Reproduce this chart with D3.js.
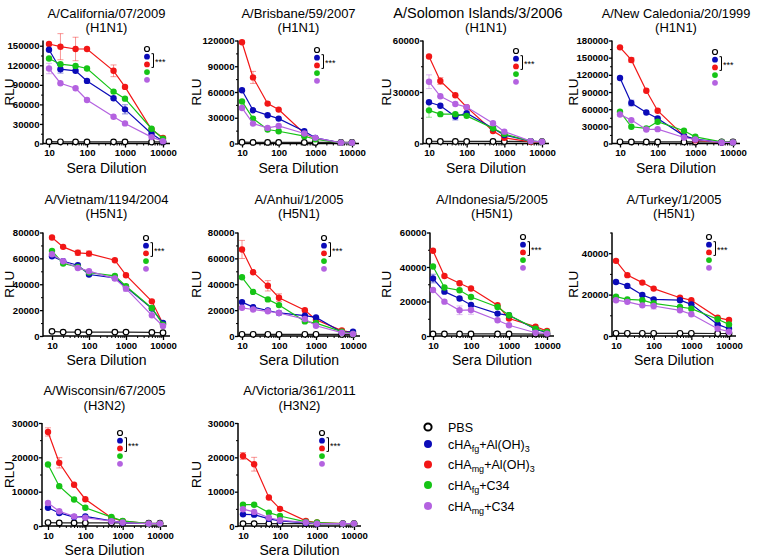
<!DOCTYPE html>
<html>
<head>
<meta charset="utf-8">
<script src="https://cdnjs.cloudflare.com/ajax/libs/d3/7.8.5/d3.min.js"></script>
<style>
  body { margin: 0; background: #fff; }
  text { font-family: "Liberation Sans", Arial, sans-serif; fill: #000; }
  .tick text { font-weight: bold; font-size: 9.6px; }
</style>
</head>
<body>
<div id="chart"></div>
<script>

// ---- data ----
var dilutions = [10, 20, 50, 100, 500, 1000, 5000, 10000];
var xTickValues = [10, 100, 1000, 10000];

var strainNames = ["A/California/07/2009", "A/Brisbane/59/2007", "A/Solomon Islands/3/2006", "A/New Caledonia/20/1999",
                   "A/Vietnam/1194/2004", "A/Anhui/1/2005", "A/Indonesia/5/2005", "A/Turkey/1/2005",
                   "A/Wisconsin/67/2005", "A/Victoria/361/2011"];
var subtypes = ["(H1N1)", "(H1N1)", "(H1N1)", "(H1N1)", "(H5N1)", "(H5N1)", "(H5N1)", "(H5N1)", "(H3N2)", "(H3N2)"];

var yMaxes = [158000, 120000, 60000, 180000, 80000, 80000, 60000, 50000, 30000, 30000];
var yTickSteps = [30000, 30000, 30000, 30000, 20000, 20000, 20000, 20000, 10000, 10000];

var seriesLabels = ["PBS", "cHA|fg|+Al(OH)|3", "cHA|mg|+Al(OH)|3", "cHA|fg|+C34", "cHA|mg|+C34"];

// one row per strain, one value per dilution
var pbs = [
  [2800, 2600, 2500, 2500, 2500, 2500, 2400, 2400],
  [1500, 1300, 1300, 1300, 1300, 1300, 1200, 1200],
  [1300, 1200, 1200, 1200, 1200, 1200, 1100, 1100],
  [3000, 2800, 2800, 2800, 2700, 2700, 2600, 2600],
  [3600, 3000, 3000, 3000, 3000, 3000, 2800, 2500],
  [1300, 1300, 1300, 1300, 1300, 1300, 1200, 1200],
  [1200, 1200, 1200, 1200, 1200, 1200, 1100, 1100],
  [1300, 1300, 1300, 1300, 1300, 1300, 1200, 1200],
  [1000, 900, 900, 900, 900, 900, 800, 800],
  [700, 700, 700, 700, 700, 700, 700, 700]
];
var fgAlum = [
  [143800, 114000, 111500, 96000, 69300, 52400, 15000, 3600],
  [62000, 38700, 33000, 29000, 14300, 6600, 800, 800],
  [24000, 22000, 15700, 17700, 8900, 4900, 1400, 1000],
  [114500, 70700, 54300, 43800, 13400, 7600, 1800, 1800],
  [61700, 57800, 54700, 47500, 44900, 37900, 21200, 10000],
  [26200, 22300, 19700, 17800, 15700, 14400, 2900, 3400],
  [33300, 25700, 21700, 18000, 13000, 12000, 3900, 1900],
  [26100, 24200, 19800, 17700, 17300, 15300, 5600, 3500],
  [5300, 3800, 2600, 2800, 1500, 1000, 700, 700],
  [3400, 3300, 2100, 1500, 900, 700, 700, 700]
];
var mgAlum = [
  [152600, 148500, 145000, 145000, 111500, 86800, 21500, 8700],
  [118000, 77000, 46500, 39500, 11600, 5800, 800, 800],
  [50700, 36400, 28100, 21200, 7300, 3300, 1000, 1000],
  [168000, 146000, 92300, 57300, 13400, 5800, 1800, 1800],
  [76100, 68900, 64300, 63700, 58600, 47000, 26800, 9500],
  [66900, 49300, 38800, 29600, 19900, 12600, 4200, 2600],
  [49400, 34800, 30600, 27500, 17800, 10100, 5400, 2900],
  [36300, 29400, 25800, 22900, 18500, 17300, 8900, 7700],
  [27400, 18400, 12000, 7800, 2400, 1400, 700, 700],
  [20400, 18000, 8300, 5000, 1500, 1000, 700, 700]
];
var fgC34 = [
  [130500, 121700, 119000, 115000, 79600, 68800, 22600, 7200],
  [49000, 29000, 16300, 14300, 8500, 5000, 800, 800],
  [19300, 17100, 17100, 16100, 8900, 5500, 1400, 1000],
  [55500, 29200, 26300, 38000, 22200, 11700, 2900, 1800],
  [65800, 56000, 53400, 49000, 46500, 38500, 21700, 8800],
  [45400, 34100, 28300, 23900, 11300, 10000, 3400, 1600],
  [40300, 28100, 26500, 22600, 16800, 12000, 4300, 2300],
  [19000, 17700, 17300, 15800, 14000, 13200, 8100, 5600],
  [17900, 11600, 7700, 5300, 2600, 1500, 700, 700],
  [6200, 6200, 3900, 2900, 1200, 1000, 700, 700]
];
var mgC34 = [
  [115000, 92500, 84700, 66800, 41100, 30800, 9800, 3600],
  [41400, 23200, 18200, 20500, 11600, 6600, 800, 800],
  [36000, 27500, 23000, 21200, 11800, 6900, 1400, 1000],
  [50800, 40900, 24500, 25100, 10500, 7000, 1800, 1800],
  [63200, 57800, 52600, 50100, 44400, 36600, 16000, 7700],
  [21800, 20500, 19100, 17800, 13100, 7900, 2600, 1600],
  [26700, 19900, 14900, 15100, 9100, 6200, 1900, 1400],
  [17300, 16500, 14800, 14500, 12400, 10500, 3500, 2100],
  [6700, 4300, 2800, 2400, 1400, 1000, 700, 700],
  [4900, 4100, 2400, 1700, 1000, 700, 700, 700]
];

// visible error bars: [strain, series, dilution index, SEM]
var errorBars = [
  [0, 2, 1, 20000], [0, 2, 2, 18000], [0, 2, 4, 9000], [0, 1, 1, 6000], [0, 1, 5, 7000], [0, 4, 0, 8000],
  [1, 2, 1, 7000],
  [2, 4, 0, 4000], [2, 3, 0, 4000], [2, 1, 2, 2000], [2, 2, 1, 2000],
  [3, 2, 1, 4000], [3, 1, 1, 5000],
  [4, 2, 2, 2000], [4, 2, 3, 2000], [4, 4, 5, 2000],
  [5, 2, 0, 7000], [5, 2, 2, 4000], [5, 2, 3, 3000],
  [6, 1, 0, 2500], [6, 4, 2, 2500], [6, 4, 3, 2500],
  [7, 4, 3, 1500],
  [8, 2, 0, 1200], [8, 2, 1, 1500],
  [9, 2, 0, 1000], [9, 2, 1, 2000]
];

// ---- layout ----
var seriesData = [pbs, fgAlum, mgAlum, fgC34, mgC34];
var seriesColors = ["#000000", "#0b0bb8", "#f21616", "#16c416", "#b462e0"];
var drawOrder = [0, 2, 1, 3, 4];

var rowTop = [40.5, 232.5, 423];
var rowBottom = [143.5, 336, 526];
var titleBase = [[18, 32], [203.5, 217.5], [394.5, 409.5]];
var rluX = [10, 197, 387, 574];
var titleSizes = [13, 13, 14.5, 12.8, 13, 13, 13, 13, 13, 13];
var titleShift = [0, 0, -8, 0, 0, 0, 0, 0, 0, 0];

// per panel: y-axis x, x of 10, x of 10000, legend x, legend y
var panelPos = [
  [43, 49, 163, 147, 49], [238, 242, 352, 317, 50], [423, 429, 542, 516, 51], [612, 620, 733, 715, 52],
  [43, 52, 163, 146, 238], [238, 242, 353, 324, 238], [430, 433, 547, 523, 237], [612, 616, 729, 709, 237],
  [42, 48, 160, 120, 433], [238, 243, 354, 322, 433]
];

var svg = d3.select("#chart").append("svg")
    .attr("width", 757)
    .attr("height", 557);

strainNames.forEach(function(name, i) {
    var row = Math.floor(i / 4), col = i % 4;
    var p = panelPos[i];
    var ax = p[0], xEnd = p[2] + 7;
    var y0 = rowBottom[row], yTop = rowTop[row];

    var x = d3.scaleLog().domain([10, 10000]).range([p[1], p[2]]);
    var y = d3.scaleLinear().domain([0, yMaxes[i]]).range([y0, yTop]);

    var g = svg.append("g");

    // titles
    var cx = (ax + xEnd) / 2;
    g.append("text").attr("x", cx + titleShift[i]).attr("y", titleBase[row][0])
        .attr("text-anchor", "middle").style("font-size", titleSizes[i] + "px").text(name);
    g.append("text").attr("x", cx).attr("y", titleBase[row][1])
        .attr("text-anchor", "middle").style("font-size", "13px").text(subtypes[i]);

    // y axis
    var step = yTickSteps[i];
    var majors = d3.range(0, yMaxes[i] + 1, step);
    var minors = d3.range(step / 2, yMaxes[i] + 1, step);
    var yAxis = g.append("g")
        .attr("transform", "translate(" + ax + ",0)")
        .call(d3.axisLeft(y).tickValues(majors).tickSize(3).tickPadding(0.5).tickFormat(d3.format("d")));
    yAxis.select(".domain").remove();
    yAxis.selectAll("line").attr("stroke-width", 1.3);
    g.append("g")
        .attr("transform", "translate(" + ax + ",0)")
        .call(d3.axisLeft(y).tickValues(minors).tickSize(2).tickFormat(""))
        .call(function(s) { s.select(".domain").remove(); s.selectAll("line").attr("stroke-width", 1); });
    g.append("line").attr("x1", ax).attr("x2", ax).attr("y1", yTop).attr("y2", y0 + 0.7)
        .attr("stroke", "#000").attr("stroke-width", 1.5);

    // x axis
    var minorX = [];
    [10, 100, 1000].forEach(function(d) { for (var k = 2; k < 10; k++) minorX.push(d * k); });
    var xAxis = g.append("g")
        .attr("transform", "translate(0," + y0 + ")")
        .call(d3.axisBottom(x).tickValues(xTickValues).tickSize(4).tickPadding(2).tickFormat(d3.format("d")));
    xAxis.select(".domain").remove();
    xAxis.selectAll("line").attr("stroke-width", 1.3);
    g.append("g")
        .attr("transform", "translate(0," + y0 + ")")
        .call(d3.axisBottom(x).tickValues(minorX).tickSize(2).tickFormat(""))
        .call(function(s) { s.select(".domain").remove(); });
    g.append("line").attr("x1", ax).attr("x2", xEnd).attr("y1", y0).attr("y2", y0)
        .attr("stroke", "#000").attr("stroke-width", 1.5);

    // axis titles
    g.append("text")
        .attr("transform", "translate(" + (rluX[col] + 4) + "," + ((yTop + y0) / 2) + ") rotate(-90)")
        .attr("text-anchor", "middle").style("font-size", "13.5px").text("RLU");
    g.append("text").attr("x", cx).attr("y", y0 + 29)
        .attr("text-anchor", "middle").style("font-size", "14px").text("Sera Dilution");

    // error bars
    errorBars.filter(function(e) { return e[0] === i; }).forEach(function(e) {
        var v = seriesData[e[1]][i][e[2]], xe = x(dilutions[e[2]]);
        var eg = g.append("g").attr("stroke", seriesColors[e[1]]).attr("stroke-opacity", 0.45).attr("stroke-width", 1);
        eg.append("line").attr("x1", xe).attr("x2", xe).attr("y1", y(v - e[3])).attr("y2", y(v + e[3]));
        [v - e[3], v + e[3]].forEach(function(t) {
            eg.append("line").attr("x1", xe - 3).attr("x2", xe + 3).attr("y1", y(t)).attr("y2", y(t));
        });
    });

    // series
    var line = d3.line().x(function(d, k) { return x(dilutions[k]); }).y(function(d) { return y(d); });
    drawOrder.forEach(function(s) {
        var vals = seriesData[s][i];
        g.append("path").datum(vals)
            .attr("d", line)
            .attr("fill", "none")
            .attr("stroke", s === 0 ? "#222" : seriesColors[s])
            .attr("stroke-width", 1.2);
        g.selectAll(".pt" + s).data(vals).enter().append("circle")
            .attr("class", "pt" + s)
            .attr("cx", function(d, k) { return x(dilutions[k]); })
            .attr("cy", function(d) { return y(d); })
            .attr("r", s === 0 ? 2.8 : 3.2)
            .attr("fill", s === 0 ? "#fff" : seriesColors[s])
            .attr("stroke", s === 0 ? "#000" : "none")
            .attr("stroke-width", 1.2);
    });

    // in-panel legend with significance bracket
    var lx = p[3], ly = p[4], gap = 7.7;
    seriesColors.forEach(function(c, s) {
        g.append("circle").attr("cx", lx).attr("cy", ly + s * gap).attr("r", s === 0 ? 2.5 : 2.9)
            .attr("fill", s === 0 ? "#fff" : c).attr("stroke", s === 0 ? "#000" : "none").attr("stroke-width", 1.2);
    });
    var bx = lx + 6.5, b1 = ly + gap - 3, b2 = ly + 2 * gap + 3;
    g.append("path")
        .attr("d", "M" + (bx - 2) + "," + b1 + "H" + bx + "V" + b2 + "H" + (bx - 2))
        .attr("fill", "none").attr("stroke", "#000").attr("stroke-width", 1);
    g.append("text").attr("x", bx + 1.5).attr("y", (b1 + b2) / 2 + 4)
        .style("font-size", "9px").text("***");
});

// ---- bottom-right legend ----
var legendY = [427, 444, 464.5, 485, 506];
var legend = svg.append("g");
seriesLabels.forEach(function(lab, s) {
    legend.append("circle").attr("cx", 428).attr("cy", legendY[s]).attr("r", s === 0 ? 3.6 : 4)
        .attr("fill", s === 0 ? "#fff" : seriesColors[s])
        .attr("stroke", s === 0 ? "#000" : "none").attr("stroke-width", 2);
    var t = legend.append("text").attr("x", 448).attr("y", legendY[s] + 4.5).style("font-size", "12.5px");
    lab.split("|").forEach(function(part, k) {
        if (k % 2 === 1) {
            t.append("tspan").attr("dy", 3).style("font-size", "9px").text(part);
        } else {
            t.append("tspan").attr("dy", k === 0 ? 0 : -3).text(part);
        }
    });
});

</script>
</body>
</html>
